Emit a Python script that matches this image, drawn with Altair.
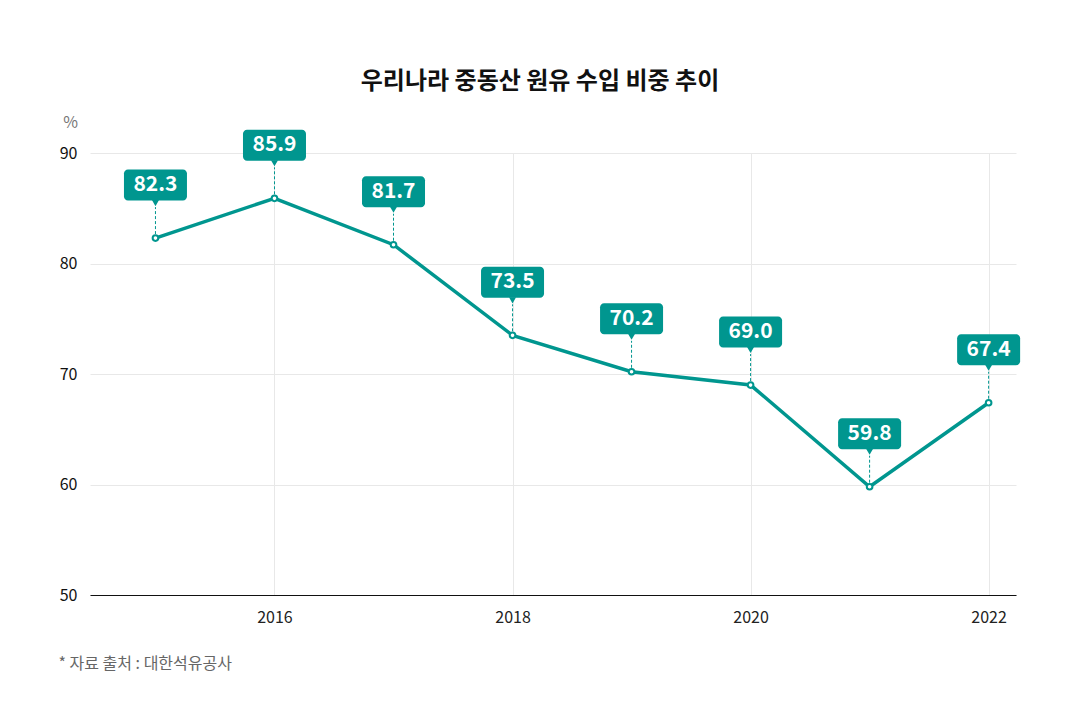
import altair as alt
import pandas as pd

years = [2015, 2016, 2017, 2018, 2019, 2020, 2021, 2022]
shares = [82.3, 85.9, 81.7, 73.5, 70.2, 69.0, 59.8, 67.4]
labels = ["82.3", "85.9", "81.7", "73.5", "70.2", "69.0", "59.8", "67.4"]
y_ticks = [50, 60, 70, 80, 90]
x_ticks = [2016, 2018, 2020, 2022]

TEAL = "#00968f"
FONT = "Noto Sans CJK KR"

df = pd.DataFrame({"year": years, "share": shares, "label": labels})

x = alt.X("year:Q", scale=alt.Scale(domain=[2014.45, 2022.23], nice=False, zero=False),
          axis=alt.Axis(values=x_ticks, format="d", title="* 자료 출처 : 대한석유공사",
                        titleX=-32, titleY=60, titleAlign="left", titleAnchor="start",
                        titleFont=FONT, titleFontSize=16, titleFontWeight="normal",
                        titleColor="#666", labelFont=FONT, labelFontSize=16,
                        labelColor="#222", labelPadding=14, ticks=False,
                        domainColor="#111", domainWidth=1.2, gridColor="#e8e8e8"))
y = alt.Y("share:Q", scale=alt.Scale(domain=[50, 90], nice=False, zero=False),
          axis=alt.Axis(values=y_ticks, title="%", titleAngle=0, titleX=-20, titleY=-23,
                        titleAlign="center", titleFont=FONT, titleFontSize=16,
                        titleFontWeight="normal", titleColor="#777",
                        labelFont=FONT, labelFontSize=16, labelColor="#111",
                        labelPadding=13, ticks=False, domain=False, gridColor="#e8e8e8"))

base = alt.Chart(df)

line = base.mark_line(color=TEAL, strokeWidth=3.5).encode(x=x, y=y)
dash = base.mark_rule(color=TEAL, strokeWidth=1, strokeDash=[3, 2], yOffset=-4,
                      y2Offset=-31).encode(x="year:Q", y="share:Q", y2="share:Q")
pts = base.mark_point(filled=True, fill="white", stroke=TEAL, strokeWidth=2,
                      size=32, opacity=1).encode(x="year:Q", y="share:Q")
box = base.mark_rect(color=TEAL, width=63, height=31, cornerRadius=4,
                     yOffset=-53).encode(x="year:Q", y="share:Q")
tri = base.mark_point(shape="triangle-down", filled=True, color=TEAL, size=50,
                      opacity=1, yOffset=-35).encode(x="year:Q", y="share:Q")
txt = base.mark_text(color="white", font=FONT, fontSize=21, fontWeight="bold",
                     yOffset=-53, baseline="middle").encode(x="year:Q", y="share:Q",
                                                            text="label:N")

chart = alt.layer(line, dash, pts, box, tri, txt).properties(
    width=926, height=442,
    title=alt.TitleParams("우리나라 중동산 원유 수입 비중 추이", font=FONT, fontSize=24,
                          fontWeight="bold", color="#111", anchor="middle", dx=-13,
                          offset=20),
    autosize=alt.AutoSizeParams(type="none"),
    padding={"left": 90, "top": 153, "right": 64, "bottom": 133},
).configure(background="white").configure_view(strokeWidth=0, strokeOpacity=0)

chart.save("out.html", embed_options={"renderer": "svg", "actions": False})
